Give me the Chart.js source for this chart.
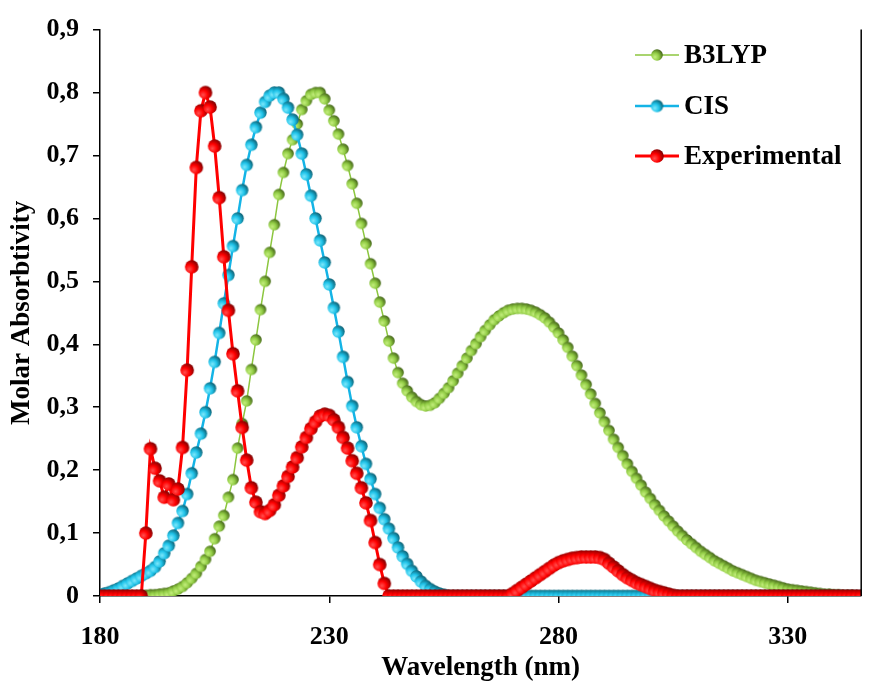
<!DOCTYPE html>
<html><head><meta charset="utf-8">
<script src="https://cdn.jsdelivr.net/npm/chart.js@4.4.0/dist/chart.umd.min.js"></script>
<style>html,body{margin:0;padding:0;background:#fff;}</style>
</head><body>
<canvas id="c" width="871" height="687"></canvas>
<script>
// ---- data ----
const wavelengths = [
180,181,182,183,184,185,186,187,188,189,
190,191,192,193,194,195,196,197,198,199,
200,201,202,203,204,205,206,207,208,209,
210,211,212,213,214,215,216,217,218,219,
220,221,222,223,224,225,226,227,228,229,
230,231,232,233,234,235,236,237,238,239,
240,241,242,243,244,245,246,247,248,249,
250,251,252,253,254,255,256,257,258,259,
260,261,262,263,264,265,266,267,268,269,
270,271,272,273,274,275,276,277,278,279,
280,281,282,283,284,285,286,287,288,289,
290,291,292,293,294,295,296,297,298,299,
300,301,302,303,304,305,306,307,308,309,
310,311,312,313,314,315,316,317,318,319,
320,321,322,323,324,325,326,327,328,329,
330,331,332,333,334,335,336,337,338,339,
340,341,342,343,344,345,346];

const b3lyp = [
0,0,0,0,0,0,0,0,0,0.001,
0.001,0.002,0.002,0.003,0.004,0.005,0.008,0.011,0.015,0.021,
0.028,0.036,0.047,0.058,0.071,0.091,0.111,0.128,0.157,0.185,
0.235,0.274,0.31,0.36,0.407,0.455,0.5,0.546,0.59,0.638,
0.673,0.703,0.725,0.75,0.773,0.787,0.797,0.8,0.8,0.79,
0.772,0.755,0.734,0.71,0.684,0.655,0.624,0.592,0.56,0.528,
0.497,0.467,0.437,0.405,0.378,0.355,0.338,0.326,0.316,0.309,
0.304,0.302,0.303,0.307,0.314,0.322,0.331,0.342,0.354,0.366,
0.378,0.39,0.401,0.412,0.422,0.431,0.439,0.445,0.45,0.454,
0.456,0.457,0.457,0.456,0.454,0.451,0.447,0.442,0.435,0.427,
0.418,0.407,0.395,0.381,0.366,0.351,0.336,0.321,0.306,0.291,
0.277,0.263,0.249,0.236,0.223,0.21,0.198,0.187,0.176,0.165,
0.155,0.145,0.136,0.127,0.119,0.111,0.103,0.096,0.089,0.083,
0.077,0.071,0.066,0.061,0.056,0.052,0.048,0.044,0.04,0.037,
0.034,0.031,0.028,0.025,0.023,0.021,0.019,0.017,0.015,0.013,
0.011,0.01,0.009,0.008,0.007,0.006,0.005,0.004,0.003,0.003,
0.002,0.002,0.001,0.001,0.001,0,0];

const cis = [
0.002,0.004,0.006,0.009,0.012,0.016,0.02,0.024,0.028,0.032,
0.036,0.04,0.046,0.055,0.068,0.08,0.096,0.116,0.135,0.162,
0.195,0.228,0.258,0.292,0.33,0.372,0.418,0.465,0.51,0.556,
0.6,0.645,0.685,0.717,0.745,0.768,0.785,0.795,0.8,0.8,
0.79,0.776,0.757,0.733,0.703,0.67,0.636,0.6,0.565,0.53,
0.495,0.458,0.42,0.38,0.34,0.302,0.268,0.238,0.21,0.186,
0.162,0.14,0.122,0.107,0.092,0.077,0.063,0.051,0.04,0.031,
0.023,0.016,0.011,0.007,0.004,0.002,0,0,0,0,
0,0,0,0,0,0,0,0,0,0,
0,0,0,0,0,0,0,0,0,0,
0,0,0,0,0,0,0,0,0,0,
0,0,0,0,0,0,0,0,0,0,
0,0,0,0,0,0,0,0,0,0,
0,0,0,0,0,0,0,0,0,0,
0,0,0,0,0,0,0,0,0,0,
0,0,0,0,0,0,0,0,0,0,
0,0,0,0,0,0,0];

const experimental = [
0,0,0,0,0,0,0,0,0,0,
0.1,0.234,0.203,0.183,0.157,0.178,0.153,0.17,0.236,0.359,
0.523,0.681,0.771,0.8,0.777,0.715,0.633,0.539,0.454,0.385,
0.326,0.268,0.216,0.172,0.149,0.134,0.131,0.136,0.145,0.16,
0.175,0.19,0.205,0.22,0.237,0.252,0.266,0.277,0.286,0.289,
0.287,0.28,0.268,0.252,0.235,0.215,0.195,0.172,0.148,0.12,
0.085,0.05,0.02,0,0,0,0,0,0,0,
0,0,0,0,0,0,0,0,0,0,
0,0,0,0,0,0,0,0,0,0,
0.004,0.009,0.014,0.019,0.024,0.029,0.034,0.039,0.044,0.049,
0.053,0.056,0.058,0.06,0.061,0.062,0.062,0.062,0.062,0.061,
0.058,0.052,0.046,0.04,0.034,0.029,0.025,0.021,0.018,0.015,
0.012,0.009,0.007,0.005,0.003,0.001,0,0,0,0,
0,0,0,0,0,0,0,0,0,0,
0,0,0,0,0,0,0,0,0,0,
0,0,0,0,0,0,0,0,0,0,
0,0,0,0,0,0,0];

const seriesNames = ['B3LYP', 'CIS', 'Experimental'];
const xTickValues = [180, 230, 280, 330];
const yTickValues = [0, 0.1, 0.2, 0.3, 0.4, 0.5, 0.6, 0.7, 0.8, 0.9];
const yTickLabels = ['0', '0,1', '0,2', '0,3', '0,4', '0,5', '0,6', '0,7', '0,8', '0,9'];
const xTitle = 'Wavelength (nm)';
const yTitle = 'Molar Absorbtivity';

// ---- styling ----
const FONT = "'Liberation Serif', 'Times New Roman', serif";

function sphere(r, light, base, dark) {
  const s = Math.ceil(r * 2 + 2);
  const cv = document.createElement('canvas');
  cv.width = s; cv.height = s;
  const g = cv.getContext('2d');
  const c = s / 2;
  const gx = c - 0.35 * r, gy = c + 0.35 * r;
  const grad = g.createRadialGradient(gx, gy, 0, gx, gy, 1.5 * r);
  grad.addColorStop(0, light);
  grad.addColorStop(0.45, base);
  grad.addColorStop(1, dark);
  g.beginPath();
  g.arc(c, c, r, 0, Math.PI * 2);
  g.fillStyle = grad;
  g.fill();
  return cv;
}

const styles = [
  { line: '#8cc63f', width: 1.5, r: 5.8, img: sphere(5.8, '#c4ee7e', '#92cd45', '#3d5c14'), order: 3 },
  { line: '#14b4e6', width: 2.5, r: 6.2, img: sphere(6.2, '#7fe8fb', '#20c4ea', '#0a5a6c'), order: 2 },
  { line: '#ff0000', width: 3, r: 6.8, img: sphere(6.8, '#ff5050', '#ff0000', '#760000'), order: 1 }
];

const seriesValues = [b3lyp, cis, experimental];
const datasets = seriesValues.map((vals, k) => ({
  label: seriesNames[k],
  data: wavelengths.map((w, i) => ({ x: w, y: vals[i] })),
  borderColor: styles[k].line,
  borderWidth: styles[k].width,
  pointStyle: styles[k].img,
  pointRadius: styles[k].r,
  pointHoverRadius: styles[k].r,
  tension: 0,
  fill: false,
  order: styles[k].order
}));

const extras = {
  id: 'extras',
  afterDraw(chart) {
    const ctx = chart.ctx;
    const a = chart.chartArea;
    ctx.save();
    // right border of the plot
    ctx.strokeStyle = '#000';
    ctx.lineWidth = 1.5;
    ctx.beginPath();
    ctx.moveTo(a.right, a.top);
    ctx.lineTo(a.right, a.bottom);
    ctx.stroke();
    // legend
    const lx0 = 635, lx1 = 679, mx = 657, tx = 684;
    const ys = [55, 106, 156];
    chart.data.datasets.forEach((ds, k) => {
      const y = ys[k];
      ctx.strokeStyle = ds.borderColor;
      ctx.lineWidth = ds.borderWidth;
      ctx.beginPath(); ctx.moveTo(lx0, y); ctx.lineTo(lx1, y); ctx.stroke();
      const img = ds.pointStyle;
      ctx.drawImage(img, mx - img.width / 2, y - img.height / 2);
      ctx.fillStyle = '#000';
      ctx.font = "bold 27px " + FONT;
      ctx.textBaseline = 'middle';
      ctx.textAlign = 'left';
      ctx.fillText(ds.label, tx, y + 1);
    });
    ctx.restore();
  }
};

new Chart(document.getElementById('c'), {
  type: 'line',
  data: { datasets },
  options: {
    responsive: false,
    animation: false,
    devicePixelRatio: 1,
    layout: { padding: { top: 16, right: 8, left: 0, bottom: 0 } },
    plugins: { legend: { display: false }, tooltip: { enabled: false } },
    scales: {
      x: {
        type: 'linear',
        min: 180, max: 346,
        afterFit(s) { s.height = 91; },
        afterBuildTicks(s) { s.ticks = xTickValues.map(v => ({ value: v })); },
        grid: { display: true, drawOnChartArea: false, drawTicks: true, tickLength: 7, color: '#000', lineWidth: 1.5 },
        border: { display: true, color: '#000', width: 1.5 },
        ticks: { color: '#000', font: { family: FONT, size: 26, weight: 'bold' }, padding: 19, maxRotation: 0, autoSkip: false },
        title: { display: true, text: xTitle, color: '#000', font: { family: FONT, size: 27, weight: 'bold' }, padding: { top: 0, bottom: 3 } }
      },
      y: {
        type: 'linear',
        min: 0, max: 0.9,
        afterFit(s) { s.width = 100; },
        afterBuildTicks(s) { s.ticks = yTickValues.map(v => ({ value: v })); },
        grid: { display: true, drawOnChartArea: false, drawTicks: true, tickLength: 7, color: '#000', lineWidth: 1.5 },
        border: { display: true, color: '#000', width: 1.5 },
        ticks: {
          color: '#000', font: { family: FONT, size: 26, weight: 'bold' }, padding: 14, autoSkip: false,
          callback: (v, i) => yTickLabels[i]
        },
        title: { display: true, text: yTitle, color: '#000', font: { family: FONT, size: 27, weight: 'bold' }, padding: { top: 6, bottom: 0 } }
      }
    }
  },
  plugins: [extras]
});
</script>
</body></html>
